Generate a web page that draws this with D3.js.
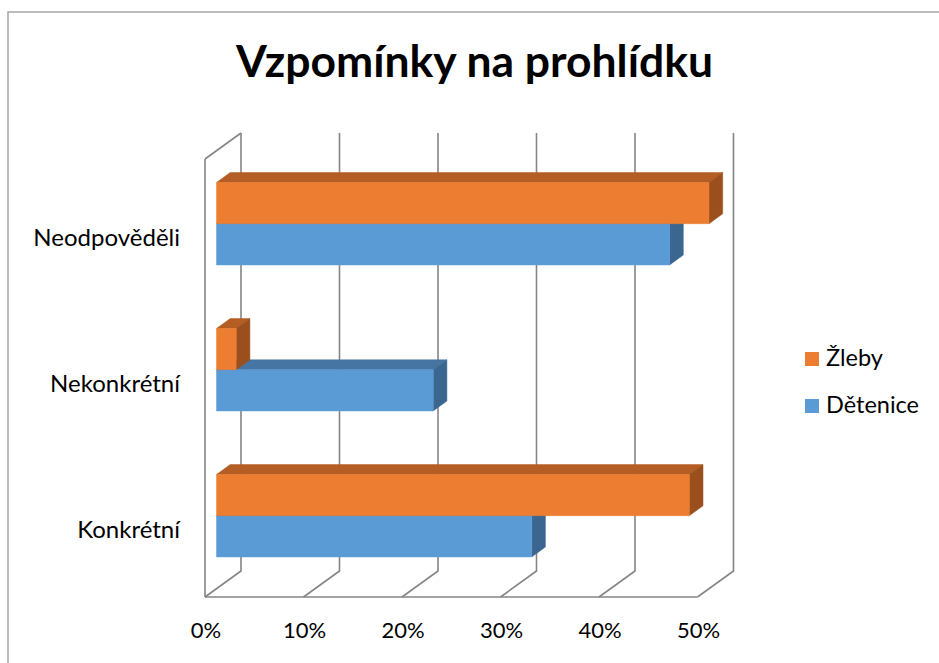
<!DOCTYPE html>
<html>
<head>
<meta charset="utf-8">
<script src="https://cdn.jsdelivr.net/npm/d3@7"></script>
<style>
  body { margin: 0; background: #fff; }
  text { font-family: Lato, "Noto Sans", sans-serif; fill: #000; }
</style>
</head>
<body>
<div id="chart"></div>
<script>
// data
var categories = ["Neodpověděli", "Nekonkrétní", "Konkrétní"];
var seriesNames = ["Žleby", "Dětenice"];
var zlebyValues = [0.50, 0.02, 0.48];
var deteniceValues = [0.46, 0.22, 0.32];
var ticks = [0, 0.1, 0.2, 0.3, 0.4, 0.5];

var width = 939, height = 663;

// 3d look: how far the back wall is shifted
var DX = 36, DY = 26;
var zFront = 0.32, zBack = 0.70;

function P(x, y, z) { return [x + z * DX, y - z * DY]; }

var colors = {
  "Žleby":    { front: "#ED7D31", top: "#B45D24", side: "#9A4F1D" },
  "Dětenice": { front: "#5B9BD5", top: "#4675A3", side: "#3B6690" }
};

var svg = d3.select("#chart").append("svg")
  .attr("width", width)
  .attr("height", height);

// chart border
svg.append("rect")
  .attr("x", 8).attr("y", 12)
  .attr("width", 960).attr("height", 700)
  .attr("fill", "none")
  .attr("stroke", "#a6a6a6")
  .attr("stroke-width", 1.5);

svg.append("text")
  .attr("x", 474.5).attr("y", 77)
  .attr("text-anchor", "middle")
  .attr("font-size", 44)
  .attr("font-weight", "bold")
  .attr("textLength", 477)
  .attr("lengthAdjust", "spacingAndGlyphs")
  .text("Vzpomínky na prohlídku");

var x = d3.scaleLinear().domain([0, 0.5]).range([205, 697.5]);
var y = d3.scaleBand().domain(categories).range([159, 597])
  .paddingInner(0.435).paddingOuter(0.2175);
var ySub = d3.scaleBand().domain(seriesNames).range([0, y.bandwidth()]);

var yTop = 159, yBottom = 597;
var grid = svg.append("g")
  .attr("stroke", "#858585")
  .attr("stroke-width", 1.6)
  .attr("fill", "none");

var line = d3.line();

// left wall
grid.append("path").attr("d", line([P(x(0), yTop, 0), P(x(0), yBottom, 0)]));
grid.append("path").attr("d", line([P(x(0), yTop, 0), P(x(0), yTop, 1)]));
// floor front edge
grid.append("path").attr("d", line([P(x(0), yBottom, 0), P(x(0.5), yBottom, 0)]));

// back wall gridlines + floor diagonals
ticks.forEach(function (t) {
  grid.append("path").attr("d", line([P(x(t), yBottom, 0), P(x(t), yBottom, 1), P(x(t), yTop, 1)]));
});

// tick labels
svg.append("g").selectAll("text")
  .data(ticks)
  .enter().append("text")
  .attr("x", function (d) { return x(d) + 1; })
  .attr("y", 638)
  .attr("text-anchor", "middle")
  .attr("font-size", 22)
  .text(function (d) { return Math.round(d * 100) + "%"; });

// category labels
svg.append("g").selectAll("text")
  .data(categories)
  .enter().append("text")
  .attr("x", 180)
  .attr("y", function (d) { return y(d) + y.bandwidth() / 2 + 14; })
  .attr("text-anchor", "end")
  .attr("font-size", 24)
  .text(function (d) { return d; });

// bars (blue below first, then orange on top)
var bars = [];
categories.forEach(function (c, i) {
  bars.push({ cat: c, series: "Dětenice", value: deteniceValues[i] });
  bars.push({ cat: c, series: "Žleby", value: zlebyValues[i] });
});

var barG = svg.append("g");
bars.forEach(function (b) {
  var y0 = y(b.cat) + ySub(b.series);
  var y1 = y0 + ySub.bandwidth();
  var x0 = x(0), x1 = x(b.value);
  var c = colors[b.series];
  var g = barG.append("g");
  g.append("path").attr("fill", c.top).attr("stroke", c.top).attr("stroke-width", 0.5)
    .attr("d", line([P(x0, y0, zFront), P(x1, y0, zFront), P(x1, y0, zBack), P(x0, y0, zBack)]) + "Z");
  g.append("path").attr("fill", c.side).attr("stroke", c.side).attr("stroke-width", 0.5)
    .attr("d", line([P(x1, y0, zFront), P(x1, y0, zBack), P(x1, y1, zBack), P(x1, y1, zFront)]) + "Z");
  g.append("path").attr("fill", c.front).attr("stroke", c.front).attr("stroke-width", 0.5)
    .attr("d", line([P(x0, y0, zFront), P(x1, y0, zFront), P(x1, y1, zFront), P(x0, y1, zFront)]) + "Z");
});

// legend
var legend = svg.append("g").selectAll("g")
  .data(seriesNames)
  .enter().append("g")
  .attr("transform", function (d, i) { return "translate(805," + (352 + i * 47) + ")"; });
legend.append("rect")
  .attr("width", 14).attr("height", 14)
  .attr("fill", function (d) { return colors[d].front; });
legend.append("text")
  .attr("x", 21).attr("y", 14)
  .attr("font-size", 23.5)
  .text(function (d) { return d; });
</script>
</body>
</html>
